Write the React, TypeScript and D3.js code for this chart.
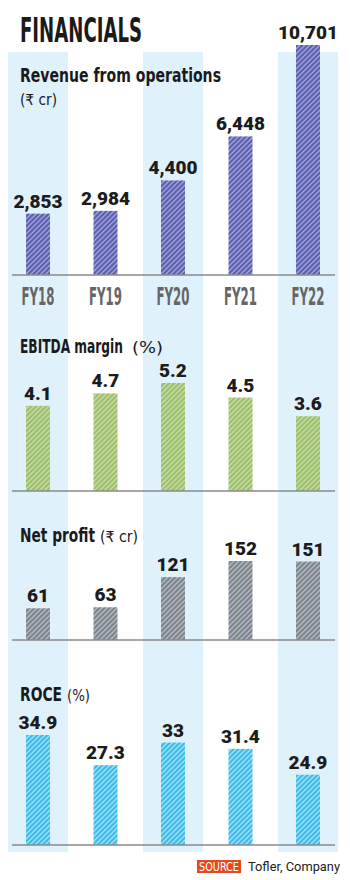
import React from 'react';
import * as d3 from 'd3';

const years = ['FY18', 'FY19', 'FY20', 'FY21', 'FY22'];
const revenue = [2853, 2984, 4400, 6448, 10701];
const ebitdaMargin = [4.1, 4.7, 5.2, 4.5, 3.6];
const netProfit = [61, 63, 121, 152, 151];
const roce = [34.9, 27.3, 33, 31.4, 24.9];

const W = 350;
const H = 880;

const condensed = "'Liberation Sans Narrow','DejaVu Sans Condensed','Roboto Condensed',sans-serif";
const valueFont = "Roboto, 'Open Sans', sans-serif";

interface Panel {
  id: string;
  title: string;
  titleLen: number;
  unit: string;
  unitX: number;
  unitY: number;
  unitLen: number;
  titleY: number;
  values: number[];
  domain: [number, number];
  base: number;
  top: number;
  fill: string;
  stripe: string;
  fmt: (v: number) => string;
}

const panels: Panel[] = [
  {
    id: 'rev', title: 'Revenue from operations', titleLen: 201, unit: '(₹ cr)', unitX: 20, unitY: 105, unitLen: 37,
    titleY: 82, values: revenue, domain: [0, 10701], base: 275, top: 45,
    fill: '#5b5fae', stripe: '#a3a6dd', fmt: d3.format(','),
  },
  {
    id: 'ebitda', title: 'EBITDA margin', titleLen: 103, unit: '(%)', unitX: 132, unitY: 353, unitLen: 31,
    titleY: 353, values: ebitdaMargin, domain: [0, 5.2], base: 491, top: 383,
    fill: '#9dbf6b', stripe: '#cadeaa', fmt: (v) => String(v),
  },
  {
    id: 'np', title: 'Net profit', titleLen: 75, unit: '(₹ cr)', unitX: 100, unitY: 542, unitLen: 38,
    titleY: 542, values: netProfit, domain: [0, 152], base: 640, top: 561,
    fill: '#7c858e', stripe: '#b6bcc2', fmt: (v) => String(v),
  },
  {
    id: 'roce', title: 'ROCE', titleLen: 42, unit: '(%)', unitX: 67, unitY: 701, unitLen: 23,
    titleY: 701, values: roce, domain: [7.2, 34.9], base: 845, top: 735,
    fill: '#3bbdec', stripe: '#a8e1f6', fmt: (v) => String(v),
  },
];

const App: React.FC = () => {
  const x = d3.scaleBand<string>().domain(years).range([4.25, 341.75]).paddingInner(0).paddingOuter(0);
  const cx = (d: string) => (x(d) ?? 0) + x.bandwidth() / 2;
  const barW = 24;
  const bandW = 60;

  return (
    <svg width={W} height={H} style={{ position: 'absolute', left: 0, top: 0, display: 'block', background: '#fff' }}>
      <defs>
        {panels.map((p) => (
          <pattern key={p.id} id={`hatch-${p.id}`} patternUnits="userSpaceOnUse" width={5} height={5}>
            <rect width={5} height={5} fill={p.fill} />
            <path d="M-1,1 l2,-2 M0,5 l5,-5 M4,6 l2,-2" stroke={p.stripe} strokeWidth={1.3} />
          </pattern>
        ))}
      </defs>

      {/* background column bands */}
      {years.filter((_, i) => i % 2 === 0).map((y) => (
        <rect key={y} x={cx(y) - bandW / 2} y={52} width={bandW} height={800} fill="#dff1fb" />
      ))}

      <text x={20} y={42} fontFamily={condensed} fontWeight={700} fontSize={33} fill="#1a1a1a"
        textLength={122} lengthAdjust="spacingAndGlyphs">FINANCIALS</text>

      {panels.map((p) => {
        const y = d3.scaleLinear().domain(p.domain).range([p.base, p.top]);
        return (
          <g key={p.id}>
            <text fontFamily={condensed} fill="#1a1a1a">
              <tspan x={20} y={p.titleY} fontWeight={700} fontSize={19.5}
                textLength={p.titleLen} lengthAdjust="spacingAndGlyphs">{p.title}</tspan>
              <tspan x={p.unitX} y={p.unitY} fontWeight={400} fontSize={15}
                textLength={p.unitLen} lengthAdjust="spacingAndGlyphs">{p.unit}</tspan>
            </text>
            {years.map((d, i) => (
              <g key={d}>
                <rect x={cx(d) - barW / 2} y={y(p.values[i])} width={barW} height={p.base - y(p.values[i])}
                  fill={`url(#hatch-${p.id})`} />
                <text x={cx(d)} y={y(p.values[i]) - 6} textAnchor="middle" fontFamily={valueFont}
                  fontWeight={900} fontSize={19} fill="#1c1c1c">{p.fmt(p.values[i])}</text>
              </g>
            ))}
            <line x1={12} x2={335} y1={p.base} y2={p.base} stroke="#8a8a8a" strokeWidth={1.5} />
          </g>
        );
      })}

      {years.map((d) => (
        <text key={d} x={cx(d)} y={305} textAnchor="middle" fontFamily={condensed} fontWeight={700}
          fontSize={24} fill="#666" textLength={33} lengthAdjust="spacingAndGlyphs">{d}</text>
      ))}

      <rect x={197} y={860} width={44} height={13} fill="#e8461e" />
      <text x={219} y={871} textAnchor="middle" fontFamily={condensed} fontSize={13} fill="#fff"
        textLength={40} lengthAdjust="spacingAndGlyphs">SOURCE</text>
      <text x={248} y={871} fontFamily={valueFont} fontSize={13} fill="#222"
        textLength={92} lengthAdjust="spacingAndGlyphs">Tofler, Company</text>
    </svg>
  );
};

export default App;
